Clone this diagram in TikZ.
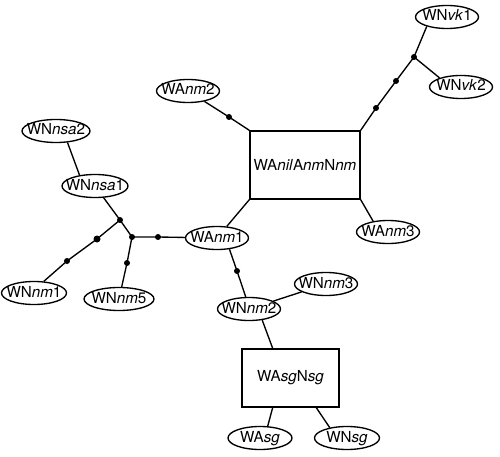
\documentclass[tikz,border=0pt]{standalone}
\usepackage{fontspec}
\setmainfont{TeX Gyre Heros}
\usetikzlibrary{shapes.geometric}
\begin{document}
\begin{tikzpicture}[x=1pt, y=-1pt, line width=1.35pt,
        every node/.style={font=\fontsize{15.2}{18}\selectfont},
        term/.style={draw, ellipse, inner xsep=-14pt, inner ysep=0pt, text height=11pt, text depth=3pt, minimum width=63pt, minimum height=23pt},
        blk/.style={draw, rectangle, inner sep=0pt},
        blob/.style={circle, fill, inner sep=0pt, outer sep=0pt, minimum size=6pt}]
        \useasboundingbox (0,0) rectangle (500,457);

        \node[term] (vkA) at (447,17) {WN\textit{vk}1};
        \node[term] (vkB) at (461,87) {WN\textit{vk}2};
        \node[term] (anm2) at (188,91) {WA\textit{nm}2};
        \node[term] (anm3) at (388,232) {WA\textit{nm}3};
        \node[term] (anm1) at (217,238) {WA\textit{nm}1};
        \node[term, minimum width=66pt] (nsa1) at (95,186) {WN\textit{nsa}1};
        \node[term, minimum width=68pt] (nsa2) at (56,131) {WN\textit{nsa}2};
        \node[term, minimum width=65pt] (nnm1) at (34,293) {WN\textit{nm}1};
        \node[term, minimum width=70pt] (nnm5) at (119,299) {WN\textit{nm}5};
        \node[term] (nnm2) at (249,309) {WN\textit{nm}2};
        \node[term] (nnm3) at (326,284) {WN\textit{nm}3};
        \node[term, minimum width=64pt] (asg) at (260,438) {WA\textit{sg}};
        \node[term, minimum width=65pt] (nsg) at (347,438) {WN\textit{sg}};

        \node[blk, minimum width=110pt, minimum height=68pt] (core) at (305,165) {WA\textit{nil}A\textit{nm}N\textit{nm}};
        \node[blk, minimum width=97pt, minimum height=58pt] (sgbox) at (290.5,378) {WA\textit{sg}N\textit{sg}};

        \node[blob] (jvk) at (414,57) {};
        \node[blob] (v1) at (396,81) {};
        \node[blob] (v2) at (376,108) {};
        \node[blob] (m2) at (229,117) {};
        \node[blob] (ja) at (132,237) {};
        \node[blob] (h1) at (158,237) {};
        \node[blob] (jb) at (120,220) {};
        \node[blob] (n5) at (127,263) {};
        \node[blob, minimum size=7pt] (n1a) at (97,239) {};
        \node[blob] (n1b) at (67,261) {};
        \node[blob] (a1) at (237,271) {};

        \path[draw] (vkA.-155) -- (jvk.center) -- (v1.center) -- (v2.center) -- (core.north east);
        \path[draw] (jvk.center) -- (vkB.157);
        \path[draw] (anm2) -- (m2.center) -- (core.north west);
        \path[draw] (core.south west) -- (anm1);
        \path[draw] (core.south east) -- (anm3.144);

        \path[draw] (anm1) -- (h1.center) -- (ja.center);
        \path[draw] (ja.center) -- (jb.center) -- (nsa1);
        \path[draw] (nsa1.145) -- (nsa2.-45);
        \path[draw] (jb.center) -- (n1a.center) -- (n1b.center) -- (nnm1.50);
        \path[draw] (ja.center) -- (n5.center) -- (nnm5);

        \path[draw] (anm1.-42) -- (a1.center) -- (nnm2.105);
        \path[draw] (nnm2) -- (nnm3);
        \path[draw] (nnm2.-40) -- (sgbox.121);
        \path[draw] (sgbox.-121) -- (asg.57);
        \path[draw] (sgbox.-49) -- (nsg.149);

    \end{tikzpicture}
\end{document}
